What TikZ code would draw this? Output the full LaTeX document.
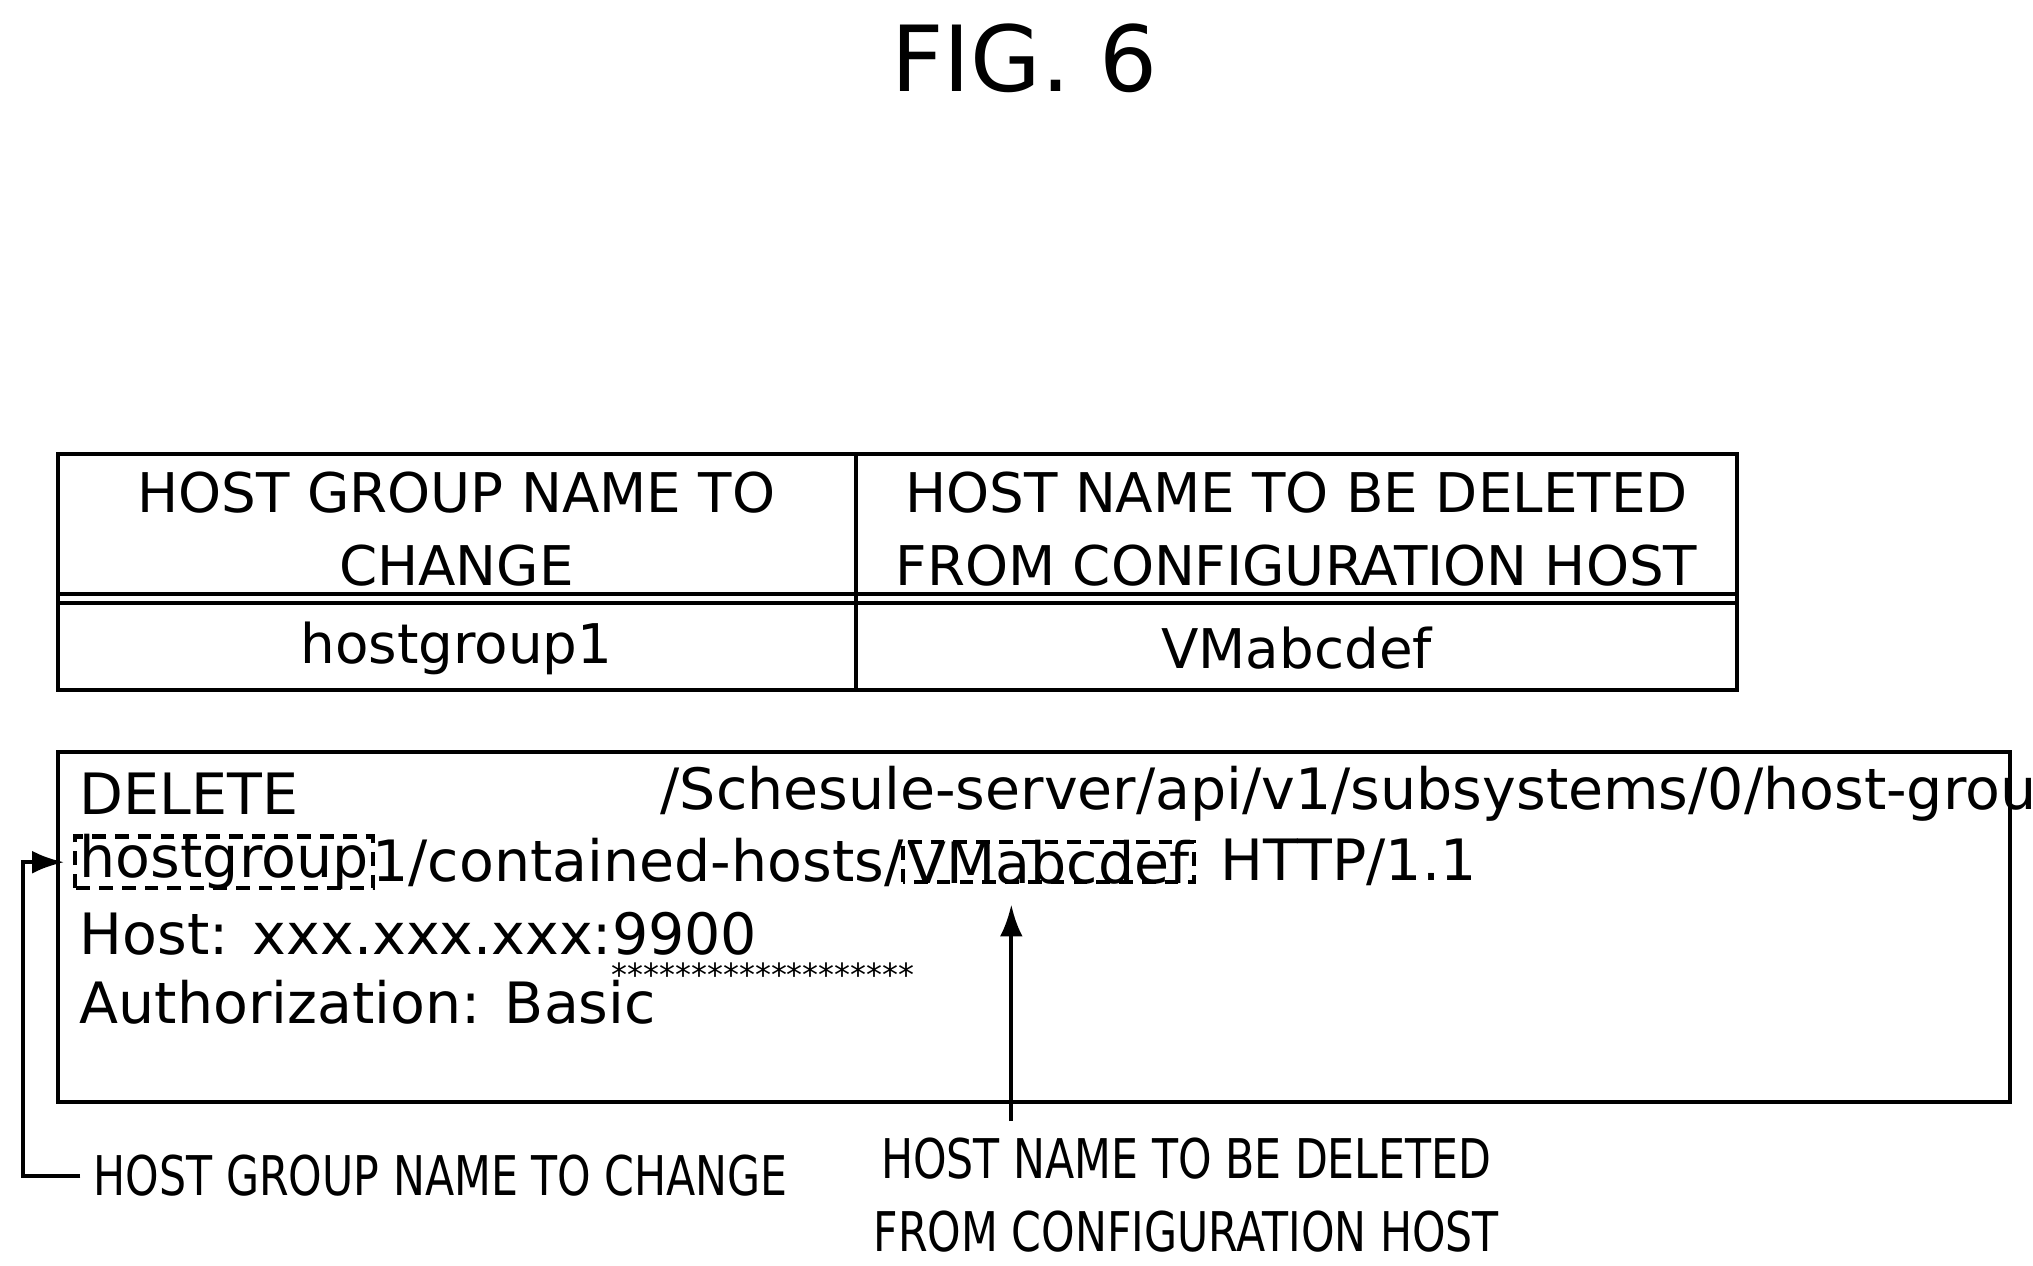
\documentclass[tikz,border=0pt]{standalone}
\usepackage{fontspec}
\setmainfont{DejaVu Sans}
\usetikzlibrary{arrows.meta}
\usetikzlibrary{positioning}

\tikzset{
  cell/.style={font=\fontsize{12}{16}\selectfont, align=center},
  code/.style={font=\fontsize{12.5}{15}\selectfont, anchor=west, inner sep=0pt},
  tag/.style={font=\fontsize{12}{16}\selectfont, align=center, xscale=0.78},
  pointer/.style={-{Latex[length=7pt,width=5pt]}}
}

\begin{document}
\begin{tikzpicture}[x=0.01cm,y=-0.01cm,line width=0.9pt]
\useasboundingbox (0,0) rectangle (1568,976);
\node (title) at (790,45) {\fontsize{20}{24}\selectfont FIG. 6};
% table
\draw (45,350) rectangle (1340,532);
\draw (660,350) -- (660,532);
\draw (45,458) -- (1340,458) (45,465) -- (1340,465);
\node[cell] (h1) at (352,408) {HOST GROUP NAME TO\\CHANGE};
\node[cell] (h2) at (1000,408) {HOST NAME TO BE DELETED\\FROM CONFIGURATION HOST};
\node[cell] (v1) at (352,500) {hostgroup1};
\node[cell] (v2) at (1000,500) {VMabcdef};
% request
\draw (45,580) rectangle (1550,850);
\node[code] (del) at (60,612) {DELETE};
\node[code] (path) at (508,612) {/Schesule-server/api/v1/subsystems/0/host-groups/};
\node[code] (grp) at (60,665) {hostgroup};
\node[code, right=0pt of grp] (rest) {1/contained-hosts/};
\node[code, right=0pt of rest] (vm) {VMabcdef};
\node[code, right=6pt of vm] (http) {HTTP/1.1};
\node[code] (host) at (60,720) {Host: xxx.xxx.xxx:9900};
\node[code] (auth) at (60,773) {Authorization: Basic};
\node[code, font=\fontsize{7}{8}\selectfont] (stars) at (470,752) {*******************};
\draw[densely dashed] (grp.south west) ++(-2,-3) rectangle ([shift={(2,3)}]grp.north east);
\draw[densely dashed] (vm.south west) ++(-2,-3) rectangle ([shift={(2,3)}]vm.north east);
% labels
\node[tag, anchor=west] (lgrp) at (62,907) {HOST GROUP NAME TO CHANGE};
\node[tag] (lvm) at (915,922) {HOST NAME TO BE DELETED\\FROM CONFIGURATION HOST};
\coordinate (corner) at (18,907);
\coordinate (tip) at (780,0);
\draw[pointer] (lgrp.west) -- (corner) |- ([xshift=-3pt]grp.west);
\draw[pointer] (lvm.north -| tip) -- ([yshift=-4pt]vm.south -| tip);
\end{tikzpicture}
\end{document}
